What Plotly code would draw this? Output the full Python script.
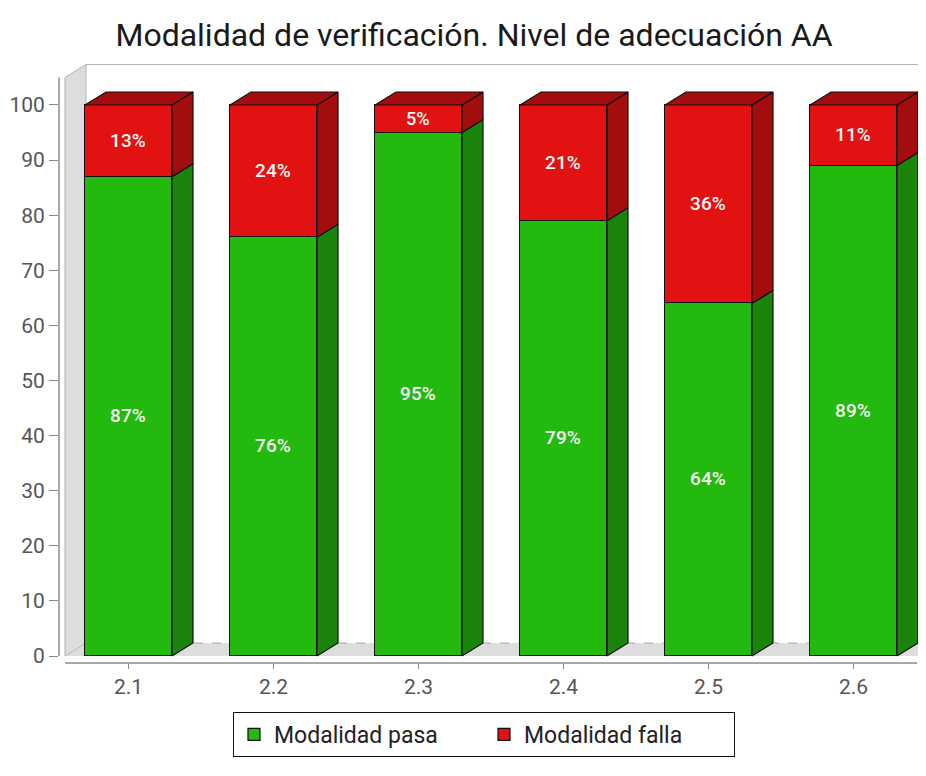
import plotly.graph_objects as go

# ---- data ----
categories = ["2.1", "2.2", "2.3", "2.4", "2.5", "2.6"]
pasa = [87, 76, 95, 79, 64, 89]
falla = [13, 24, 5, 21, 36, 11]
series_names = ["Modalidad pasa", "Modalidad falla"]
y_ticks = [0, 10, 20, 30, 40, 50, 60, 70, 80, 90, 100]

# ---- style ----
GREEN = "#24B90F"
GREEN_D = "#1A840B"
RED = "#E21212"
RED_D = "#A30D0D"
WALL = "#DDDDDD"
WALL_LINE = "#B5B5B5"
BAR_W = 0.6
DX = 21 / 145      # depth offset in x data units
DY = 13 / 5.51     # depth offset in y data units
YMAX = 105
XMIN = -0.438
XMAX = 5.438
FONT = "Roboto"
W, H = 918, 768    # page body adds an 8px margin

xpos = list(range(len(categories)))

fig = go.Figure()

# front faces
fig.add_trace(go.Bar(
    x=xpos, y=pasa, name=series_names[0], width=BAR_W,
    marker=dict(color=GREEN, line=dict(color="#111111", width=1.2)),
    text=[f"{v}%" for v in pasa], textposition="inside",
    insidetextanchor="middle", textangle=0,
    textfont=dict(family=FONT, size=19, color="#F4F4F4", weight=500),
    hoverinfo="skip"))
fig.add_trace(go.Bar(
    x=xpos, y=falla, name=series_names[1], width=BAR_W,
    marker=dict(color=RED, line=dict(color="#111111", width=1.2)),
    text=[f"{v}%" for v in falla], textposition="inside",
    insidetextanchor="middle", textangle=0,
    textfont=dict(family=FONT, size=19, color="#F4F4F4", weight=500),
    hoverinfo="skip"))


def side_poly(xs, bases, tops):
    px, py = [], []
    for x, b, t in zip(xs, bases, tops):
        r = x + BAR_W / 2
        px += [r, r + DX, r + DX, r, r, None]
        py += [b, b + DY, t + DY, t, b, None]
    return px, py


def top_poly(xs, tops):
    px, py = [], []
    for x, t in zip(xs, tops):
        l = x - BAR_W / 2
        r = x + BAR_W / 2
        px += [l, l + DX, r + DX, r, l, None]
        py += [t, t + DY, t + DY, t, t, None]
    return px, py


totals = [a + b for a, b in zip(pasa, falla)]
gx, gy = side_poly(xpos, [0] * len(pasa), pasa)
rx, ry = side_poly(xpos, pasa, totals)
tx, ty = top_poly(xpos, totals)

for px, py, col in [(gx, gy, GREEN_D), (rx, ry, RED_D), (tx, ty, RED_D)]:
    fig.add_trace(go.Scatter(
        x=px, y=py, mode="lines", fill="toself", fillcolor=col,
        line=dict(color="#111111", width=1.2), showlegend=False,
        hoverinfo="skip"))

# 3D walls (decoration)
shapes = [
    dict(type="path", xref="x", yref="y", layer="below",
         path=f"M {XMIN},0 L {XMAX},0 L {XMAX+DX},{DY} L {XMIN+DX},{DY} Z",
         fillcolor=WALL, line=dict(width=0)),
    dict(type="path", xref="x", yref="y", layer="below",
         path=f"M {XMIN},0 L {XMIN},{YMAX} L {XMIN+DX},{YMAX+DY} L {XMIN+DX},{DY} Z",
         fillcolor=WALL, line=dict(color=WALL_LINE, width=1)),
    dict(type="line", xref="x", yref="y", layer="below",
         x0=XMIN + DX, x1=XMAX + DX, y0=YMAX + DY, y1=YMAX + DY,
         line=dict(color=WALL_LINE, width=1.2)),
    dict(type="line", xref="x", yref="y", layer="below",
         x0=XMIN + DX, x1=XMAX + DX, y0=DY, y1=DY,
         line=dict(color="#AAAAAA", width=1, dash="dash")),
    dict(type="line", xref="paper", yref="y", x0=0, x1=0, y0=0, y1=YMAX,
         line=dict(color="#8A8A8A", width=1.5)),
    dict(type="line", xref="x", yref="paper", x0=XMIN, x1=XMAX, y0=0, y1=0,
         line=dict(color="#8A8A8A", width=1.5)),
]

fig.update_layout(
    width=W, height=H,
    margin=dict(l=51, r=0, t=56, b=113, autoexpand=False),
    barmode="stack", bargap=0,
    paper_bgcolor="white", plot_bgcolor="white",
    shapes=shapes,
    title=dict(text="Modalidad de verificación. Nivel de adecuación AA",
               font=dict(family=FONT, size=32, color="#1A1A1A"),
               x=466 / W, xref="container", xanchor="center",
               y=1 - 27 / H, yref="container", yanchor="middle"),
    xaxis=dict(range=[-0.4793, 5.5], tickmode="array", tickvals=xpos,
               ticktext=categories, showgrid=False, zeroline=False,
               showline=False, ticks="outside", ticklen=5,
               tickcolor="#8A8A8A", tickwidth=1, automargin=False,
               tickfont=dict(family=FONT, size=21, color="#555555")),
    yaxis=dict(range=[-1.27, 107.44], tickmode="array", tickvals=y_ticks,
               showgrid=False, zeroline=False, showline=False,
               ticks="outside", ticklen=9, tickcolor="#8A8A8A", tickwidth=1,
               automargin=False,
               tickfont=dict(family=FONT, size=21, color="#555555")),
    legend=dict(orientation="h", xref="container", yref="container",
                x=225 / W, xanchor="left", y=1 - 704 / H,
                yanchor="top", bordercolor="#111111", borderwidth=1,
                font=dict(family=FONT, size=23, color="#222222"),
                entrywidth=205, traceorder="normal"),
)

fig.write_html("out.html")
